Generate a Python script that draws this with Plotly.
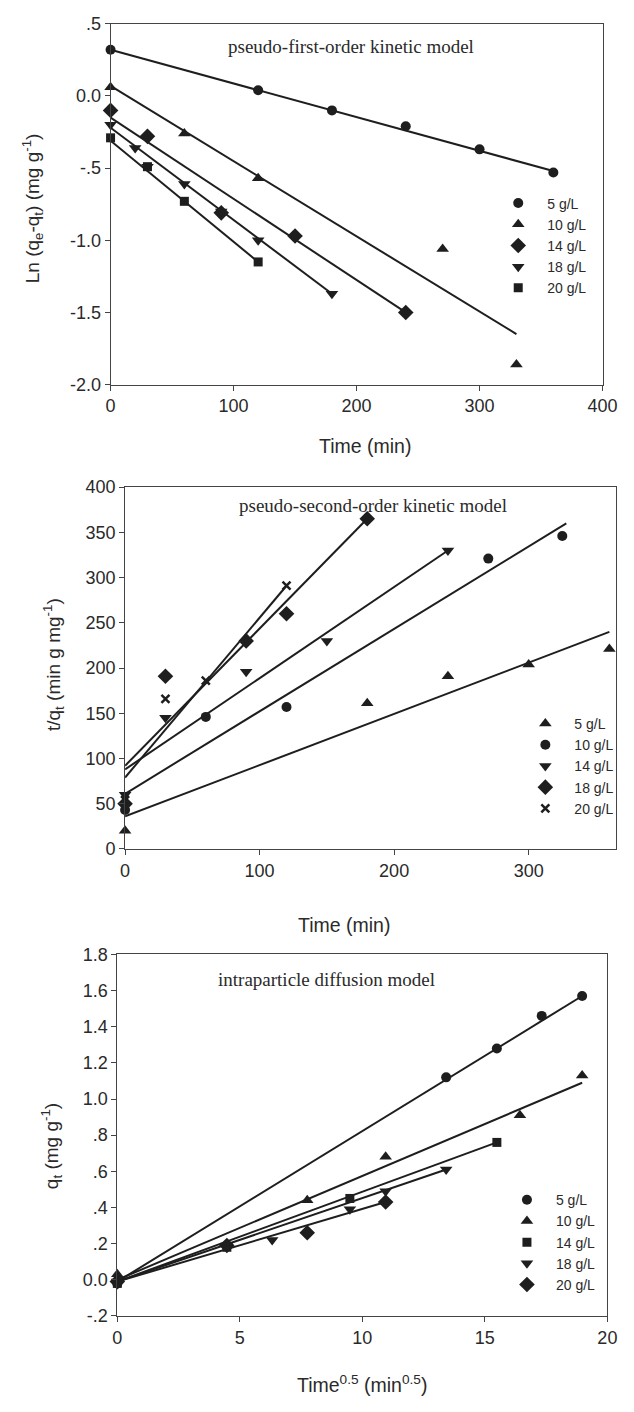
import plotly.graph_objects as go

W, H = 634, 1412
INK = "#1e1e1e"
SERIF = "Liberation Serif, Times New Roman, serif"
SANS = "Liberation Sans, Arial, sans-serif"

# ---- panel 1: pseudo-first-order ----
p1_names = ["5 g/L", "10 g/L", "14 g/L", "18 g/L", "20 g/L"]
p1_symbols = ["circle", "triangle-up", "diamond", "triangle-down", "square"]
p1_x = [
    [0, 120, 180, 240, 300, 360],
    [0, 60, 120, 270, 330],
    [0, 30, 90, 150, 240],
    [0, 20, 30, 60, 90, 120, 180],
    [0, 30, 60, 120],
]
p1_y = [
    [0.32, 0.04, -0.10, -0.21, -0.37, -0.53],
    [0.06, -0.26, -0.57, -1.06, -1.86],
    [-0.10, -0.28, -0.81, -0.97, -1.50],
    [-0.20, -0.36, -0.49, -0.61, -0.80, -1.00, -1.37],
    [-0.29, -0.49, -0.73, -1.15],
]
p1_fit_x = [[0, 360], [0, 330], [0, 240], [0, 180], [0, 120]]
p1_fit_y = [[0.32, -0.52], [0.07, -1.65], [-0.15, -1.50], [-0.22, -1.37], [-0.31, -1.15]]

# ---- panel 2: pseudo-second-order ----
p2_names = ["5 g/L", "10 g/L", "14 g/L", "18 g/L", "20 g/L"]
p2_symbols = ["triangle-up", "circle", "triangle-down", "diamond", "x-thin"]
p2_x = [
    [0, 180, 240, 300, 360],
    [0, 60, 120, 270, 325],
    [0, 30, 90, 150, 240],
    [0, 30, 90, 120, 180],
    [0, 30, 60, 120],
]
p2_y = [
    [20, 161, 191, 204, 221],
    [43, 146, 157, 321, 346],
    [60, 145, 196, 230, 330],
    [50, 191, 230, 260, 365],
    [54, 166, 186, 291],
]
p2_fit_x = [[0, 360], [0, 328], [0, 240], [0, 180], [0, 120]]
p2_fit_y = [[36, 240], [61, 360], [88, 330], [92, 365], [79, 291]]

# ---- panel 3: intraparticle diffusion ----
p3_names = ["5 g/L", "10 g/L", "14 g/L", "18 g/L", "20 g/L"]
p3_symbols = ["circle", "triangle-up", "square", "triangle-down", "diamond"]
p3_x = [
    [0, 13.42, 15.49, 17.32, 18.97],
    [0, 7.75, 10.95, 16.43, 18.97],
    [0, 4.47, 9.49, 15.49],
    [0, 4.47, 6.32, 9.49, 10.95, 13.42],
    [0, 4.47, 7.75, 10.95],
]
p3_y = [
    [-0.02, 1.12, 1.28, 1.46, 1.57],
    [0.03, 0.44, 0.68, 0.91, 1.13],
    [-0.02, 0.18, 0.45, 0.76],
    [-0.01, 0.19, 0.22, 0.39, 0.49, 0.61],
    [-0.01, 0.19, 0.26, 0.43],
]
p3_fit_x = [[0, 18.97], [0, 18.97], [0, 15.49], [0, 13.42], [0, 10.95]]
p3_fit_y = [[-0.01, 1.57], [0.0, 1.09], [-0.01, 0.76], [-0.01, 0.61], [-0.01, 0.43]]

# marker sizes per symbol so they look alike on the page
SIZES = {"circle": 10, "triangle-up": 11, "triangle-down": 11, "diamond": 12,
         "square": 9, "x-thin": 8}

fig = go.Figure()


def add_panel(n, names, symbols, xs, ys, fxs, fys):
    ax = "" if n == 1 else str(n)
    for fx, fy in zip(fxs, fys):
        fig.add_trace(go.Scatter(
            x=fx, y=fy, mode="lines", line=dict(color=INK, width=2),
            showlegend=False, hoverinfo="skip", cliponaxis=False,
            xaxis="x" + ax, yaxis="y" + ax,
        ))
    for name, sym, x, y in zip(names, symbols, xs, ys):
        is_x = sym.startswith("x")
        fig.add_trace(go.Scatter(
            x=x, y=y, mode="markers", name=name,
            marker=dict(symbol=sym, size=SIZES[sym], color=INK,
                        line=dict(color=INK, width=2.5 if is_x else 0)),
            cliponaxis=False, legend="legend" + ax,
            xaxis="x" + ax, yaxis="y" + ax,
        ))


add_panel(1, p1_names, p1_symbols, p1_x, p1_y, p1_fit_x, p1_fit_y)
add_panel(2, p2_names, p2_symbols, p2_x, p2_y, p2_fit_x, p2_fit_y)
add_panel(3, p3_names, p3_symbols, p3_x, p3_y, p3_fit_x, p3_fit_y)

axis_style = dict(
    showline=True, linecolor="#444", linewidth=1, mirror=True,
    ticks="outside", ticklen=5, tickcolor="#444", tickwidth=1,
    showgrid=False, zeroline=False,
    tickfont=dict(family=SANS, size=18, color="#2a2a2a"),
)


def px(v):
    return v / W


def py(v):
    return 1 - v / H


legend_style = dict(
    font=dict(family=SANS, size=14, color="#2a2a2a"),
    bgcolor="rgba(0,0,0,0)", xanchor="left", yanchor="top",
    tracegroupgap=0, itemwidth=48,
)

fig.update_layout(
    width=W, height=H,
    margin=dict(l=0, r=0, t=0, b=0),
    paper_bgcolor="white", plot_bgcolor="white",
    xaxis=dict(axis_style, domain=[px(109), px(617)], range=[0, 400],
               tickvals=[0, 100, 200, 300, 400], anchor="y"),
    yaxis=dict(axis_style, domain=[py(380), py(14)], range=[-2.0, 0.5],
               tickvals=[-2.0, -1.5, -1.0, -0.5, 0.0, 0.5],
               ticktext=["-2.0", "-1.5", "-1.0", "-.5", "0.0", ".5"], anchor="x"),
    xaxis2=dict(axis_style, domain=[px(124), px(631)], range=[0, 365],
                tickvals=[0, 100, 200, 300], anchor="y2"),
    yaxis2=dict(axis_style, domain=[py(851), py(484)], range=[0, 400],
                tickvals=[0, 50, 100, 150, 200, 250, 300, 350, 400], anchor="x2"),
    xaxis3=dict(axis_style, domain=[px(116), px(622)], range=[0, 20],
                tickvals=[0, 5, 10, 15, 20], anchor="y3"),
    yaxis3=dict(axis_style, domain=[py(1324.7), py(958)], range=[-0.2, 1.8],
                tickvals=[-0.2, 0.0, 0.2, 0.4, 0.6, 0.8, 1.0, 1.2, 1.4, 1.6, 1.8],
                ticktext=["-.2", "0.0", ".2", ".4", ".6", ".8", "1.0", "1.2", "1.4", "1.6", "1.8"],
                anchor="x3"),
    legend=dict(legend_style, x=px(500), y=py(180)),
    legend2=dict(legend_style, x=px(528), y=py(708)),
    legend3=dict(legend_style, x=px(509), y=py(1191)),
)

notes = [
    # panel titles (serif, inside plot)
    dict(x=228, y=37, text="pseudo-first-order kinetic model", font=dict(family=SERIF, size=19), xanchor="left"),
    dict(x=240, y=503, text="pseudo-second-order kinetic model", font=dict(family=SERIF, size=19), xanchor="left"),
    dict(x=218, y=983, text="intraparticle diffusion model", font=dict(family=SERIF, size=19), xanchor="left"),
    # x axis titles
    dict(x=372, y=442, text="Time (min)", font=dict(family=SANS, size=19.5), xanchor="center"),
    dict(x=350, y=928, text="Time (min)", font=dict(family=SANS, size=19.5), xanchor="center"),
    dict(x=369, y=1394, text="Time<sup>0.5</sup> (min<sup>0.5</sup>)", font=dict(family=SANS, size=19.5),
         xanchor="center"),
]
for a in notes:
    fig.add_annotation(x=px(a["x"]), y=py(a["y"]), xref="paper", yref="paper", text=a["text"],
                       showarrow=False, xanchor=a["xanchor"], yanchor="middle",
                       font=dict(a["font"], color="#2a2a2a"))

ytitles = [
    (28, 201, "Ln (q<sub>e</sub>-q<sub>t</sub>) (mg g<sup>-1</sup>)"),
    (50, 664, "t/q<sub>t</sub> (min g mg<sup>-1</sup>)"),
    (48, 1152, "q<sub>t</sub> (mg g<sup>-1</sup>)"),
]
for x, y, t in ytitles:
    fig.add_annotation(x=px(x), y=py(y), xref="paper", yref="paper", text=t, showarrow=False,
                       textangle=-90, xanchor="center", yanchor="middle",
                       font=dict(family=SANS, size=19, color="#2a2a2a"))

# the page's default body margin would shift the fixed-size figure
fig.write_html("out.html", config={"displayModeBar": False},
               post_script="document.body.style.margin = '0';")
